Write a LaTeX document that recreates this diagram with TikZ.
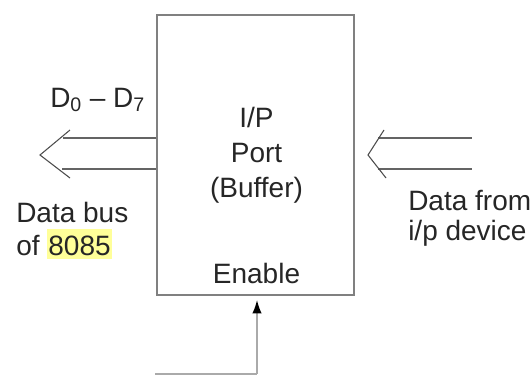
\documentclass[tikz,border=0pt]{standalone}
\usepackage{fontspec}
\setmainfont{Liberation Sans}
\usetikzlibrary{arrows.meta}
\definecolor{boxgray}{RGB}{128,128,128}
\definecolor{busgray}{RGB}{100,100,100}
\definecolor{engray}{RGB}{170,170,170}
\definecolor{hlyellow}{RGB}{255,255,153}
\newcommand{\hlnum}[1]{{\setlength{\fboxsep}{0.75pt}\colorbox{hlyellow}{\rule[-2pt]{0pt}{21pt}#1}}}
\tikzset{
  portbox/.style={draw=boxgray, line width=1.5pt, minimum width=147.75pt, minimum height=210pt, inner sep=0pt},
  txt/.style={font=\fontsize{21}{25}\selectfont, text=black!85, inner sep=0pt},
  bus/.style={draw=busgray, line width=1.1pt},
  chev/.style={draw=black!70, line width=0.8pt},
  enline/.style={draw=engray, line width=1.1pt}
}
\begin{document}
\begin{tikzpicture}[x=0.75pt,y=-0.75pt]
  \useasboundingbox (0,0) rectangle (531,375);
  % Port box and its labels
  \node[portbox] (port) at (255.5,155) {};
  \node[txt,anchor=base] (io) at (256.5,127) {I/P};
  \node[txt,anchor=base] (portname) at (256.5,162) {Port};
  \node[txt,anchor=base] (buffer) at (256.5,197) {(Buffer)};
  \node[txt,anchor=base] (enable) at (256.5,283) {Enable};
  % Data bus side (left)
  \coordinate (ltop) at (63,138);
  \coordinate (lbot) at (62,169);
  \coordinate (ltip) at (40,155);
  \draw[bus] (ltop) -- (ltop -| port.west);
  \draw[bus] (lbot) -- (lbot -| port.west);
  \draw[chev] (70,130) -- (ltip) -- (70,178);
  \node[txt,anchor=base west] (dbus) at (50,107) {D\textsubscript{0} -- D\textsubscript{7}};
  \node[txt,anchor=base west] (busname) at (16,222) {Data bus};
  \node[txt,anchor=base west] (cpu) at (16,255) {of \hlnum{8085}};
  % Device side (right)
  \coordinate (rtop) at (378,138);
  \coordinate (rbot) at (378,169);
  \coordinate (rtip) at (368,155);
  \draw[bus] (rtop) -- (472,138);
  \draw[bus] (rbot) -- (472,169);
  \draw[chev] (384,130) -- (rtip) -- (386,178);
  \node[txt,anchor=base west] (from) at (408,210) {Data from};
  \node[txt,anchor=base west] (device) at (408,240) {i/p device};
  % Enable input
  \coordinate (enstart) at (155,374);
  \coordinate (encorner) at (257,374);
  \draw[enline] (enstart) -- (encorner);
  \draw[enline, -{Latex[length=10pt,width=7pt,color=black]}, shorten >=3pt] (encorner) -- (encorner |- port.south);
\end{tikzpicture}
\end{document}
